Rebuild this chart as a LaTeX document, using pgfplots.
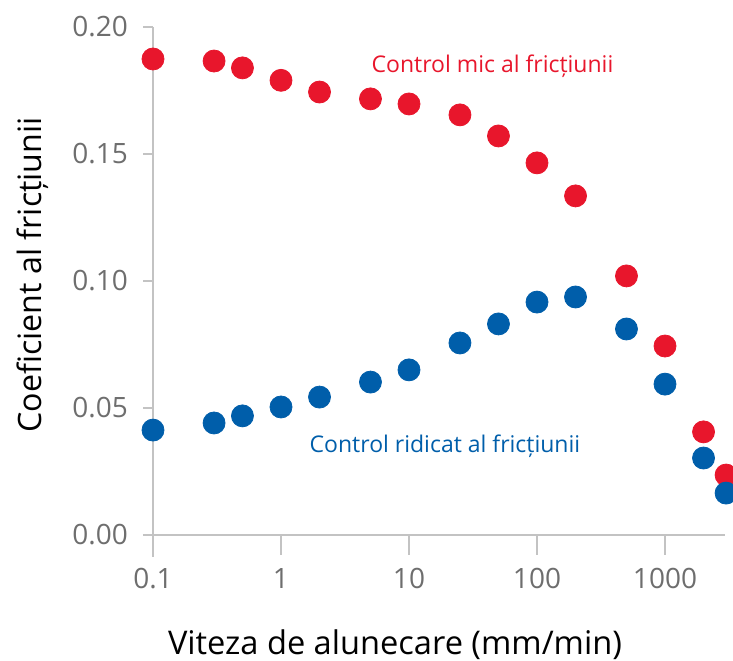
\documentclass[border=0pt]{standalone}
\usepackage{fontspec}
\setmainfont{Open Sans}
\usepackage{pgfplots}
\pgfplotsset{compat=1.18}
\definecolor{myred}{RGB}{232,22,44}
\definecolor{myblue}{RGB}{0,94,170}
\definecolor{axgray}{RGB}{195,195,195}
\definecolor{tickgray}{RGB}{110,110,110}
\begin{document}
\begin{tikzpicture}
\begin{axis}[
  scale only axis, width=290pt, height=254pt,
  xmode=log, xmin=0.1, xmax=3398, ymin=0, ymax=0.2,
  clip=false,
  axis x line*=bottom, axis y line*=left,
  axis line style={draw=none},
  xtick={0.1,1,10,100,1000}, xticklabels={0.1,1,10,100,1000},
  xminorticks=false,
  ytick={0,0.05,0.1,0.15,0.2}, yticklabels={0.00,0.05,0.10,0.15,0.20},
  tick align=outside,
  major tick length=5pt,
  tick style={draw=axgray, line width=1pt},
  ticklabel style={font=\fontsize{14}{16}\selectfont, text=tickgray},
  xticklabel style={yshift=-8pt},
  yticklabel style={xshift=-4pt},
  xlabel={Viteza de alunecare (mm/min)},
  ylabel={Coeficient al fricțiunii},
  xlabel style={at={(axis cs:7.78,-0.0472)}, anchor=base, font=\fontsize{16.3}{19}\selectfont},
  ylabel style={at={(axis cs:0.0115,0.1024)}, anchor=center, font=\fontsize{16.1}{19}\selectfont},
]
\draw[axgray, line width=1pt] ([xshift=-5pt]rel axis cs:0,0) -- ([xshift=-4pt]rel axis cs:1,0);
\draw[axgray, line width=1pt] ([yshift=-11pt]rel axis cs:0,0) -- (rel axis cs:0,1);
\draw[axgray, line width=1pt] (axis cs:1,0) -- ++(0pt,-10pt);
\draw[axgray, line width=1pt] (axis cs:10,0) -- ++(0pt,-10pt);
\draw[axgray, line width=1pt] (axis cs:100,0) -- ++(0pt,-10pt);
\draw[axgray, line width=1pt] (axis cs:1000,0) -- ++(0pt,-10pt);
\addplot[only marks, mark=*, mark size=5.5pt, color=myred] coordinates {
  (0.1,0.1874) (0.3,0.1866) (0.5,0.1839) (1,0.179) (2,0.1744) (5,0.1717)
  (10,0.1697) (25,0.1654) (50,0.1571) (100,0.1465) (200,0.1335)
  (500,0.102) (1000,0.0744) (2000,0.0406) (3000,0.0236)
};
\addplot[only marks, mark=*, mark size=5.5pt, color=myblue] coordinates {
  (0.1,0.0413) (0.3,0.0441) (0.5,0.0469) (1,0.0504) (2,0.0543) (5,0.0602)
  (10,0.065) (25,0.0756) (50,0.0831) (100,0.0917) (200,0.0937)
  (500,0.0811) (1000,0.0594) (2000,0.0303) (3000,0.0165)
};
\node[anchor=base, text=myred, font=\fontsize{11.5}{14}\selectfont] at (axis cs:44.9,0.1819) {Control mic al fricțiunii};
\node[anchor=base, text=myblue, font=\fontsize{11.5}{14}\selectfont] at (axis cs:19.1,0.0323) {Control ridicat al fricțiunii};
\coordinate (O) at (rel axis cs:0,0);
\coordinate (T) at (rel axis cs:1,1);
\end{axis}
\pgfresetboundingbox
\path ([xshift=-76.5pt,yshift=-63pt]O) rectangle ([yshift=13.5pt]T);
\end{tikzpicture}
\end{document}
